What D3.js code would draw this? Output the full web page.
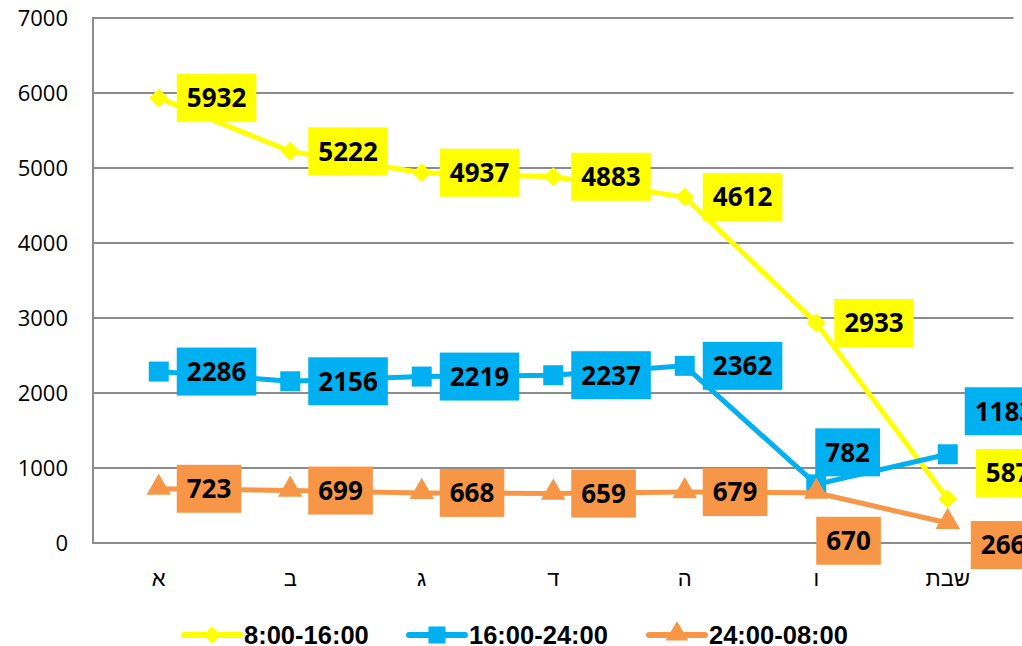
<!DOCTYPE html>
<html>
<head>
<meta charset="utf-8">
<script src="https://cdn.jsdelivr.net/npm/d3@7"></script>
<style>
  html, body { margin: 0; padding: 0; background: #fff; }
  svg { display: block; }
  .grid line { stroke: #8c8c8c; stroke-width: 2; }
  .ytick { font-family: "Open Sans", sans-serif; font-size: 22px; fill: #000; }
  .xtick { font-family: "Liberation Sans", Arial, sans-serif; font-size: 22px; fill: #000; }
  .dlabel { font-family: "Open Sans", sans-serif; font-weight: 700; font-size: 26px; fill: #000; }
  .legend text { font-family: "Liberation Sans", Arial, sans-serif; font-weight: 700; font-size: 25.5px; fill: #000; }
</style>
</head>
<body>
<svg id="chart" width="1022" height="646"></svg>
<script>
  // ימי השבוע
  const days = ["א", "ב", "ג", "ד", "ה", "ו", "שבת"];
  const seriesNames = ["8:00-16:00", "16:00-24:00", "24:00-08:00"];
  const morning = [5932, 5222, 4937, 4883, 4612, 2933, 587];
  const evening = [2286, 2156, 2219, 2237, 2362, 782, 1183];
  const night = [723, 699, 668, 659, 679, 670, 266];
  const yTicks = [0, 1000, 2000, 3000, 4000, 5000, 6000, 7000];

  const colors = ["#ffff00", "#00b0f0", "#f79646"];
  // diamond = square turned 45deg (excel style, not d3's narrow diamond)
  const markers = [d3.symbolSquare, d3.symbolSquare, d3.symbolTriangle];
  const markerRot = [45, 0, 0];

  const series = [morning, evening, night].map((vals, i) => ({
    name: seriesNames[i], color: colors[i], marker: markers[i], values: vals, idx: i
  }));

  // תוויות שלא יושבות בברירת המחדל (מימין לנקודה)
  // key: "series:point" -> [dx of left edge, dy of box centre]
  const labelNudge = {
    "1:5": [-1, -32],
    "2:5": [0, 48],
    "1:6": [17, -43],
    "0:6": [28, -26],
    "2:6": [23, 22],
  };

  const svg = d3.select("#chart");
  const plotL = 93, plotR = 1013.5, plotT = 18, plotB = 543;

  const x = d3.scalePoint().domain(days).range([plotL, plotR]).padding(0.5);
  const y = d3.scaleLinear().domain([0, 7000]).range([plotB, plotT]);

  // gridlines
  svg.append("g").attr("class", "grid")
    .selectAll("line").data(yTicks).join("line")
    .attr("x1", plotL).attr("x2", plotR)
    .attr("y1", (d) => y(d)).attr("y2", (d) => y(d));
  svg.append("line")
    .attr("x1", plotL).attr("x2", plotL).attr("y1", plotT - 1).attr("y2", plotB + 1)
    .attr("stroke", "#8c8c8c").attr("stroke-width", 2);

  svg.append("g").selectAll("text").data(yTicks).join("text")
    .attr("class", "ytick")
    .attr("x", 68).attr("y", (d) => y(d))
    .attr("text-anchor", "end").attr("dy", "0.35em")
    .text((d) => d);

  svg.append("g").selectAll("text").data(days).join("text")
    .attr("class", "xtick")
    .attr("x", (d) => x(d)).attr("y", 586)
    .attr("text-anchor", "middle")
    .text((d) => d);

  const line = d3.line().x((d, i) => x(days[i])).y((d) => y(d));
  const markerSize = [180, 400, 260];

  const sg = svg.append("g").selectAll("g.series").data(series).join("g").attr("class", "series");
  sg.append("path")
    .attr("d", (s) => line(s.values))
    .attr("fill", "none")
    .attr("stroke", (s) => s.color)
    .attr("stroke-width", 5)
    .attr("stroke-linejoin", "round");
  sg.each(function (s) {
    d3.select(this).selectAll("path.mk").data(s.values).join("path")
      .attr("class", "mk")
      .attr("transform", (d, i) => `translate(${x(days[i])},${y(d) + (s.idx === 2 ? -1 : 0)}) rotate(${markerRot[s.idx]})`)
      .attr("d", d3.symbol().type(s.marker).size(markerSize[s.idx]))
      .attr("fill", s.color);
  });

  // תוויות נתונים
  const labels = svg.append("g");
  series.forEach((s) => {
    s.values.forEach((v, i) => {
      const px = x(days[i]), py = y(v);
      const nudge = labelNudge[s.idx + ":" + i] || [18, 0];
      const g = labels.append("g");
      const rect = g.append("rect").attr("fill", s.color);
      const t = g.append("text").attr("class", "dlabel").text(v);
      const w = t.node().getBBox().width + 20;
      const h = 48;
      const bx = px + nudge[0], cy = py + nudge[1];
      rect.attr("x", bx).attr("y", cy - h / 2).attr("width", w).attr("height", h);
      t.attr("x", bx + w / 2).attr("y", cy).attr("text-anchor", "middle").attr("dy", "0.36em");
    });
  });

  // legend
  const legendItems = [
    { s: series[0], x0: 184 },
    { s: series[1], x0: 409 },
    { s: series[2], x0: 649 },
  ];
  const lg = svg.append("g").attr("class", "legend");
  legendItems.forEach((it) => {
    const cy = 635;
    lg.append("line")
      .attr("x1", it.x0).attr("x2", it.x0 + 56).attr("y1", cy).attr("y2", cy)
      .attr("stroke", it.s.color).attr("stroke-width", 6).attr("stroke-linecap", "round");
    lg.append("path")
      .attr("transform", `translate(${it.x0 + 28},${cy + (it.s.idx === 2 ? -1 : 0)}) rotate(${markerRot[it.s.idx]})`)
      .attr("d", d3.symbol().type(it.s.marker).size([150, 290, 220][it.s.idx]))
      .attr("fill", it.s.color);
    lg.append("text")
      .attr("x", it.x0 + 60).attr("y", cy).attr("dy", "0.36em")
      .text(it.s.name);
  });
</script>
</body>
</html>
